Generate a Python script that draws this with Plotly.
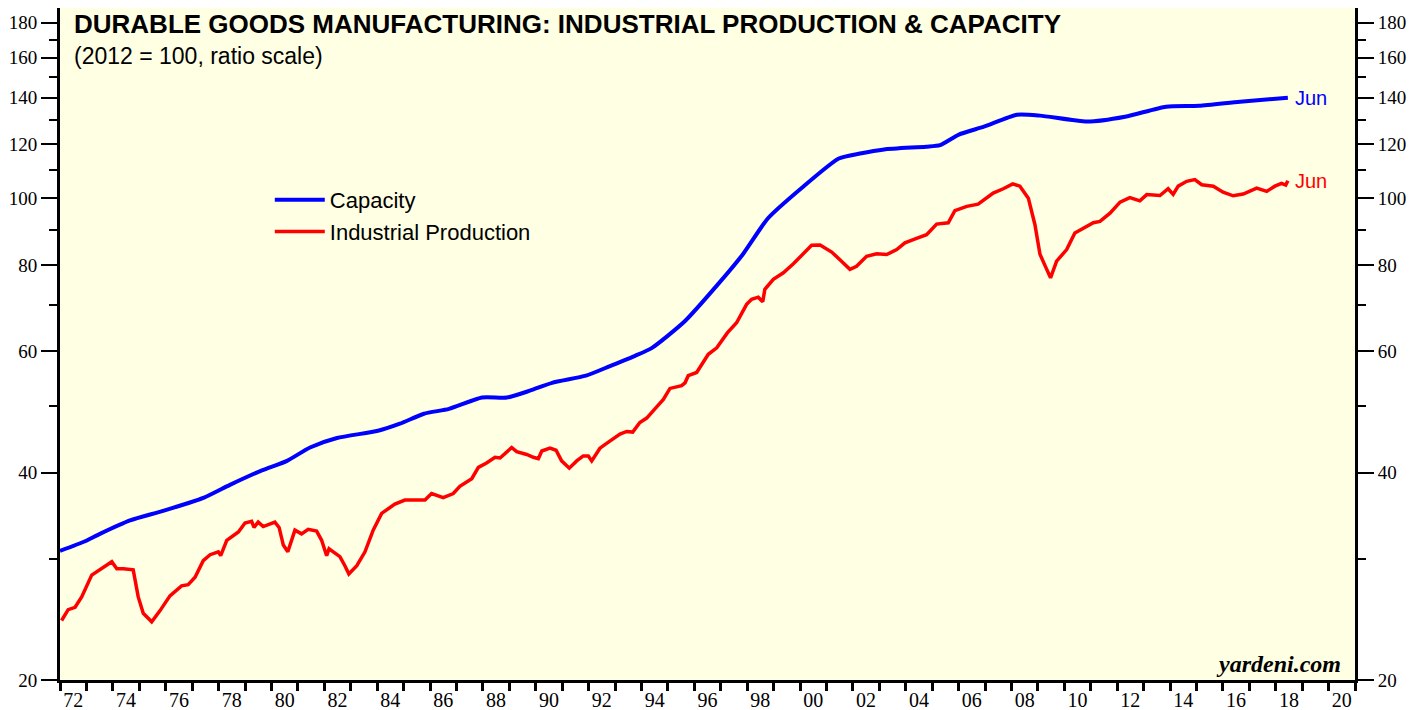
import math
import plotly.graph_objects as go

# ---- data ----
cap_year = [1972.00, 1972.95, 1973.51, 1974.65, 1975.90, 1977.45, 1978.43, 1979.64,
            1980.59, 1981.46, 1982.48, 1984.03, 1984.86, 1985.77, 1986.72, 1987.97,
            1988.91, 1989.78, 1990.62, 1991.90, 1992.81, 1993.76, 1994.40, 1995.65,
            1996.90, 1997.84, 1998.79, 2000.04, 2001.47, 2002.27, 2003.18, 2004.77,
            2005.30, 2006.01, 2006.96, 2008.21, 2009.08, 2010.86, 2012.30, 2013.85,
            2015.10, 2016.65, 2018.46]
cap_val = [30.8, 31.8, 32.6, 34.1, 35.2, 36.8, 38.4, 40.3,
           41.6, 43.5, 44.9, 46.0, 47.1, 48.7, 49.5, 51.4,
           51.4, 52.6, 54.0, 55.3, 57.1, 59.1, 60.7, 66.4,
           75.1, 83.0, 93.6, 103.4, 114.3, 116.2, 117.8, 118.9,
           119.5, 123.8, 127.1, 132.3, 131.9, 129.3, 131.4, 135.9,
           136.3, 138.2, 140.0]

ip_year = [1972.06, 1972.31, 1972.57, 1972.82, 1973.20, 1973.58, 1973.96, 1974.15,
           1974.40, 1974.77, 1974.96, 1975.15, 1975.47, 1975.78, 1976.16, 1976.60,
           1976.85, 1977.11, 1977.42, 1977.68, 1977.99, 1978.08, 1978.31, 1978.75,
           1979.00, 1979.25, 1979.34, 1979.50, 1979.69, 1980.13, 1980.29, 1980.45,
           1980.62, 1980.89, 1981.14, 1981.39, 1981.71, 1981.90, 1982.09, 1982.18,
           1982.59, 1982.78, 1982.93, 1983.23, 1983.54, 1983.85, 1984.17, 1984.67,
           1985.05, 1985.37, 1985.81, 1986.06, 1986.50, 1986.88, 1987.13, 1987.58,
           1987.83, 1988.14, 1988.46, 1988.65, 1989.09, 1989.28, 1989.66, 1989.91,
           1990.10, 1990.23, 1990.54, 1990.77, 1990.98, 1991.27, 1991.55, 1991.80,
           1991.99, 1992.12, 1992.43, 1992.75, 1993.19, 1993.44, 1993.67, 1993.94,
           1994.20, 1994.51, 1994.83, 1995.08, 1995.52, 1995.65, 1995.77, 1996.09,
           1996.53, 1996.85, 1997.25, 1997.60, 1997.98, 1998.17, 1998.42, 1998.59,
           1998.67, 1998.99, 1999.37, 1999.75, 2000.12, 2000.44, 2000.76, 2001.20,
           2001.51, 2001.89, 2002.14, 2002.52, 2002.90, 2003.28, 2003.66, 2003.97,
           2004.41, 2004.79, 2005.17, 2005.61, 2005.86, 2006.31, 2006.74, 2007.31,
           2007.69, 2008.05, 2008.32, 2008.64, 2008.89, 2009.08, 2009.31, 2009.48,
           2009.71, 2010.09, 2010.40, 2010.72, 2011.10, 2011.35, 2011.73, 2012.11,
           2012.48, 2012.86, 2013.12, 2013.62, 2013.93, 2014.12, 2014.31, 2014.63,
           2014.94, 2015.20, 2015.64, 2016.01, 2016.39, 2016.77, 2017.28, 2017.66,
           2017.97, 2018.22, 2018.38, 2018.46]
ip_val = [24.4, 25.3, 25.5, 26.4, 28.4, 29.0, 29.7, 29.0,
          29.0, 28.9, 26.4, 25.0, 24.3, 25.2, 26.5, 27.4,
          27.5, 28.2, 29.8, 30.4, 30.7, 30.3, 31.9, 32.8,
          33.8, 34.0, 33.3, 33.9, 33.4, 33.9, 33.3, 31.4,
          30.7, 33.0, 32.6, 33.1, 32.9, 31.9, 30.3, 31.0,
          30.2, 29.3, 28.5, 29.3, 30.7, 33.0, 34.9, 36.0,
          36.5, 36.5, 36.5, 37.3, 36.8, 37.3, 38.2, 39.2,
          40.7, 41.3, 42.1, 42.0, 43.5, 42.9, 42.5, 42.1,
          41.9, 43.0, 43.4, 43.1, 41.6, 40.6, 41.6, 42.3,
          42.3, 41.6, 43.4, 44.3, 45.5, 45.9, 45.8, 47.3,
          48.0, 49.5, 51.1, 53.0, 53.5, 54.0, 55.3, 55.9,
          59.4, 60.7, 63.8, 66.0, 70.2, 71.4, 71.9, 70.8,
          73.8, 76.3, 78.0, 80.4, 83.1, 85.5, 85.6, 83.6,
          81.5, 78.9, 79.7, 82.4, 83.1, 82.9, 84.3, 86.2,
          87.5, 88.6, 91.8, 92.2, 96.0, 97.4, 98.1, 101.8,
          103.3, 105.0, 104.2, 100.1, 91.6, 83.0, 79.3, 76.7,
          81.1, 84.3, 89.1, 90.6, 92.2, 92.6, 95.2, 98.8,
          100.3, 99.2, 101.3, 101.0, 103.3, 101.4, 104.2, 105.9,
          106.5, 104.7, 104.2, 102.1, 100.9, 101.5, 103.5, 102.4,
          104.2, 105.2, 104.6, 106.1]

y_major = [20, 40, 60, 80, 100, 120, 140, 160, 180]
y_minor = [30, 50, 70, 90, 110, 130, 150, 170]
x_label_years = list(range(1972, 2021, 2))
x_labels = [f"{y % 100:02d}" for y in x_label_years]
x_label_pos = [y + 0.5 for y in x_label_years]

Y_RANGE = [math.log10(20), math.log10(189)]
X_RANGE = [1972, 2021]

Y_TICK_FONT = dict(family="Liberation Serif", size=19, color="black")
X_TICK_FONT = dict(family="Liberation Serif", size=20, color="black")
SANS = "Liberation Sans"

fig = go.Figure()
fig.add_trace(go.Scatter(x=cap_year, y=cap_val, mode="lines", name="Capacity", yaxis="y2",
                         line=dict(color="#0000FF", width=4, shape="spline", smoothing=0.6)))
fig.add_trace(go.Scatter(x=ip_year, y=ip_val, mode="lines", name="Industrial Production",
                         yaxis="y", line=dict(color="#FF0000", width=3.5)))

yaxis_common = dict(
    type="log", range=Y_RANGE, tickmode="array", tickvals=y_major,
    ticktext=[str(v) for v in y_major], ticks="outside", ticklen=16, tickwidth=2,
    tickcolor="black", showline=True, linewidth=3, linecolor="black",
    showgrid=False, zeroline=False, tickfont=Y_TICK_FONT, automargin=False,
    minor=dict(tickmode="array", tickvals=y_minor, ticks="outside", ticklen=8,
               tickwidth=2, tickcolor="black", showgrid=False),
)

# page has an 8px body margin, so the figure is sized/offset to compensate
fig.update_layout(
    width=1415, height=702,
    margin=dict(l=52, r=68, t=0, b=30, autoexpand=False),
    paper_bgcolor="white", plot_bgcolor="#FFFFE3",
    showlegend=True,
    legend=dict(x=0.162, y=0.7455, xanchor="left", yanchor="top", itemwidth=50,
                bgcolor="rgba(0,0,0,0)", font=dict(family=SANS, size=22, color="black"),
                tracegroupgap=0),
    xaxis=dict(range=X_RANGE, tickmode="array", tickvals=x_label_pos, ticktext=x_labels,
               ticks="outside", ticklen=0, tickcolor="rgba(0,0,0,0)", automargin=False,
               showline=True, linewidth=3, linecolor="black", mirror=True,
               showgrid=False, zeroline=False, tickfont=X_TICK_FONT,
               minor=dict(tickmode="linear", tick0=1972, dtick=1, ticks="outside",
                          ticklen=8, tickwidth=2.5, tickcolor="black", showgrid=False)),
    yaxis=dict(side="left", **yaxis_common),
    yaxis2=dict(side="right", overlaying="y", anchor="x", **yaxis_common),
)

annotations = [
    dict(text="<b>DURABLE GOODS MANUFACTURING: INDUSTRIAL PRODUCTION &amp; CAPACITY</b>",
         xref="paper", yref="paper", x=0.009, y=0.976, xanchor="left", yanchor="middle",
         showarrow=False, font=dict(family=SANS, size=26, color="black")),
    dict(text="(2012 = 100, ratio scale)",
         xref="paper", yref="paper", x=0.009, y=0.9286, xanchor="left", yanchor="middle",
         showarrow=False, font=dict(family=SANS, size=23, color="black")),
    dict(text="<b><i>yardeni.com</i></b>",
         xref="paper", yref="paper", x=0.9907, y=0.0238, xanchor="right", yanchor="middle",
         showarrow=False, font=dict(family="Liberation Serif", size=24, color="black")),
    dict(text="Jun", xref="x", yref="y", x=cap_year[-1], y=math.log10(cap_val[-1]),
         xanchor="left", yanchor="middle", xshift=5, showarrow=False,
         font=dict(family=SANS, size=20, color="#0000FF")),
    dict(text="Jun", xref="x", yref="y", x=ip_year[-1], y=math.log10(ip_val[-1]),
         xanchor="left", yanchor="middle", xshift=5, showarrow=False,
         font=dict(family=SANS, size=20, color="#FF0000")),
]
fig.update_layout(annotations=annotations)

fig.write_html("out.html")
